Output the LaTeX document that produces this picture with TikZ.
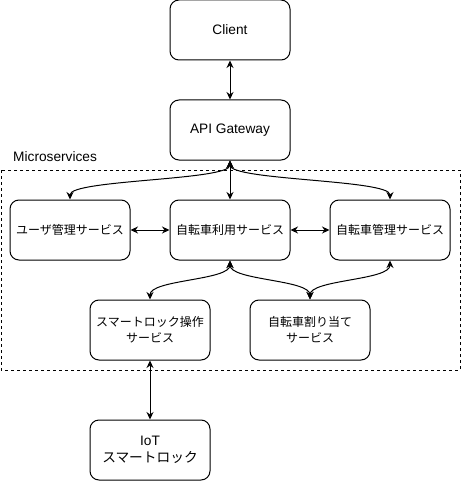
\documentclass[tikz,border=0pt]{standalone}
\usepackage{fontspec}
\setmainfont{Liberation Sans}
\newfontfamily\jpfont{Noto Sans CJK JP}
\usetikzlibrary{arrows.meta,positioning}
\definecolor{SvcLine}{HTML}{000000}
\newcommand{\jptext}{\fontsize{12}{16}\selectfont\jpfont}
\tikzset{
  svcbox/.style={draw=SvcLine,line width=1pt,rounded corners=9pt,align=center,minimum width=120pt,minimum height=60pt,inner sep=2pt,fill=white,font=\fontsize{13.7}{16}\selectfont},
  jpbox/.style={svcbox,font=\jptext},
  linkarrow/.style={{Stealth[length=7.5pt,width=7pt]}-{Stealth[length=7.5pt,width=7pt]},line width=1pt,draw=SvcLine},
  groupframe/.style={draw=SvcLine,line width=0.8pt,dash pattern=on 3pt off 3pt},
  grouplabel/.style={font=\fontsize{13.7}{16}\selectfont,inner sep=0pt}
}
\begin{document}
\begin{tikzpicture}[x=1pt,y=-1pt]
\useasboundingbox (0,0) rectangle (461,481);
% microservices group
\draw[groupframe] (1,170) rectangle (460,370);
\node[grouplabel,anchor=west] (msLabel) at (13,157) {Microservices};
% boxes
\node[svcbox] (client) at (230,30) {Client};
\node[svcbox] (gateway) at (230,130) {API Gateway};
\node[jpbox] (userSvc) at (70,230) {ユーザ管理サービス};
\node[jpbox] (rideSvc) at (230,230) {自転車利用サービス};
\node[jpbox] (bikeSvc) at (390,230) {自転車管理サービス};
\node[jpbox] (lockSvc) at (150,330) {スマートロック操作\\サービス};
\node[jpbox] (assignSvc) at (310,330) {自転車割り当て\\サービス};
\node[svcbox,font=\fontsize{13.7}{17}\selectfont] (iotLock) at (150,450) {IoT\\{\jpfont\fontsize{13.7}{17}\selectfont スマートロック}};
% links
\draw[linkarrow] (client.south) -- (gateway.north);
\draw[linkarrow] (gateway.south) .. controls +(0,20) and +(0,-20) .. (userSvc.north);
\draw[linkarrow] (gateway.south) -- (rideSvc.north);
\draw[linkarrow] (gateway.south) .. controls +(0,20) and +(0,-20) .. (bikeSvc.north);
\draw[linkarrow] (userSvc.east) -- (rideSvc.west);
\draw[linkarrow] (rideSvc.east) -- (bikeSvc.west);
\draw[linkarrow] (rideSvc.south) .. controls +(0,20) and +(0,-20) .. (lockSvc.north);
\draw[linkarrow] (rideSvc.south) .. controls +(0,20) and +(0,-20) .. (assignSvc.north);
\draw[linkarrow] (bikeSvc.south) .. controls +(0,20) and +(0,-20) .. (assignSvc.north);
\draw[linkarrow] (lockSvc.south) -- (iotLock.north);
\end{tikzpicture}
\end{document}
